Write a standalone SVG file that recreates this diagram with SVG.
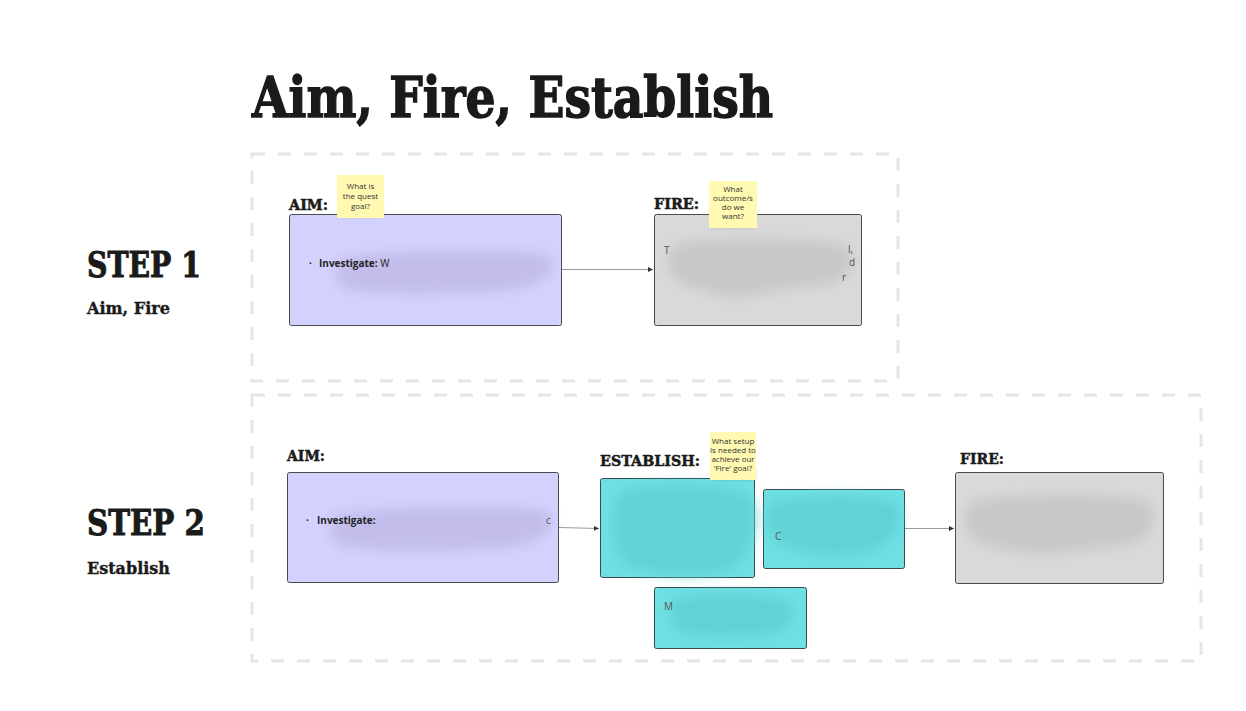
<svg xmlns="http://www.w3.org/2000/svg" width="1246" height="711" viewBox="0 0 1246 711">
<defs>
<style>
.frame{fill:none;stroke:#e6e6e6;stroke-width:3;stroke-dasharray:13 13}
.aim{fill:#d3d1fe;stroke:#4a4a4a;stroke-width:1}
.fire{fill:#d9d9d9;stroke:#4a4a4a;stroke-width:1}
.est{fill:#6ee0e3;stroke:#3a4a4a;stroke-width:1}
.sticky{fill:#fff9b1}
.stxt{font-family:"Open Sans","Liberation Sans",sans-serif;font-size:8px;fill:#333;text-anchor:middle}
.head{font-family:"DejaVu Serif","Liberation Serif",serif;font-weight:bold;fill:#1a1a1a;stroke:#1a1a1a}
.body{font-family:"Open Sans","Liberation Sans",sans-serif;font-size:10px;font-weight:bold;fill:#222}
.frag{font-family:"Open Sans","Liberation Sans",sans-serif;font-size:10px;fill:#555}
.conn{fill:none;stroke:#9a9a9a;stroke-width:1}
</style>
<marker id="arr" markerWidth="6" markerHeight="6" refX="5" refY="3" orient="auto" markerUnits="userSpaceOnUse">
<path d="M0,0.5 L5,3 L0,5.5 z" fill="#333"/>
</marker>
<filter id="blur" x="-20%" y="-50%" width="140%" height="200%"><feGaussianBlur stdDeviation="6"/></filter>
<filter id="sh" x="-30%" y="-30%" width="160%" height="160%"><feGaussianBlur stdDeviation="2"/></filter>
</defs>
<rect width="1246" height="711" fill="#ffffff"/>

<g id="title">
<text class="head" x="252" y="117" font-size="56" stroke-width="1.5" textLength="521" lengthAdjust="spacingAndGlyphs">Aim, Fire, Establish</text>
</g>

<g id="frames">
<rect class="frame" x="252" y="154" width="646" height="227"/>
<rect class="frame" x="252" y="395" width="949" height="266"/>
</g>

<g id="step1-label">
<text class="head" x="87" y="277" font-size="36" stroke-width="1" textLength="114" lengthAdjust="spacingAndGlyphs">STEP 1</text>
<text class="head" x="87" y="314" font-size="17" stroke-width="0.4" textLength="83" lengthAdjust="spacingAndGlyphs">Aim, Fire</text>
</g>
<g id="step2-label">
<text class="head" x="87" y="535" font-size="36" stroke-width="1" textLength="118" lengthAdjust="spacingAndGlyphs">STEP 2</text>
<text class="head" x="87" y="574" font-size="17" stroke-width="0.4" textLength="83" lengthAdjust="spacingAndGlyphs">Establish</text>
</g>

<g id="connectors">
<line class="conn" x1="562" y1="269.5" x2="653" y2="269.5" marker-end="url(#arr)"/>
<line class="conn" x1="559" y1="527.5" x2="599" y2="528.5" marker-end="url(#arr)"/>
<line class="conn" x1="905" y1="528.5" x2="954" y2="528.5" marker-end="url(#arr)"/>
</g>

<g id="s1-aim">
<text class="head" x="289" y="210" font-size="15" stroke-width="0.5" textLength="39" lengthAdjust="spacingAndGlyphs">AIM:</text>
<rect class="aim" x="289.5" y="214.5" width="272" height="111" rx="2"/>
<path d="M345,258 C380,250 520,248 550,256 C560,268 545,287 500,291 C430,295 350,295 340,285 C332,274 335,263 345,258 z" fill="#c2bdea" filter="url(#blur)"/>
<text class="body" x="309" y="267">·</text>
<text class="body" x="319" y="267">Investigate: <tspan font-weight="normal">W</tspan></text>
</g>

<g id="s1-fire">
<text class="head" x="654" y="209" font-size="15" stroke-width="0.5" textLength="45" lengthAdjust="spacingAndGlyphs">FIRE:</text>
<rect class="fire" x="654.5" y="214.5" width="207" height="111" rx="2"/>
<path d="M675,244 C720,236 820,238 848,246 C860,262 850,282 820,285 C790,287 760,294 740,297 C720,299 700,288 680,284 C665,272 665,252 675,244 z" fill="#c8c8c8" filter="url(#blur)"/>
<text class="frag" x="664" y="254">T</text>
<text class="frag" x="848" y="253">l,</text>
<text class="frag" x="849" y="266">d</text>
<text class="frag" x="842" y="281">r</text>
</g>

<g id="sticky1">
<rect x="340" y="206" width="42" height="10" fill="#000" opacity="0.25" filter="url(#sh)"/>
<rect class="sticky" x="337" y="175" width="47" height="43"/>
<text class="stxt" x="360.5" y="189">What is</text>
<text class="stxt" x="360.5" y="199">the quest</text>
<text class="stxt" x="360.5" y="209">goal?</text>
</g>

<g id="sticky2">
<rect x="712" y="217" width="42" height="10" fill="#000" opacity="0.25" filter="url(#sh)"/>
<rect class="sticky" x="709" y="181" width="48" height="47"/>
<text class="stxt" x="733" y="192" font-size="7.5">What</text>
<text class="stxt" x="733" y="201" font-size="7.5">outcome/s</text>
<text class="stxt" x="733" y="210" font-size="7.5">do we</text>
<text class="stxt" x="733" y="219" font-size="7.5">want?</text>
</g>

<g id="s2-aim">
<text class="head" x="287" y="461" font-size="15" stroke-width="0.5" textLength="38" lengthAdjust="spacingAndGlyphs">AIM:</text>
<rect class="aim" x="287.5" y="472.5" width="271" height="110" rx="2"/>
<path d="M335,515 C380,506 520,504 548,512 C558,526 545,544 500,548 C430,552 345,552 335,542 C328,532 328,520 335,515 z" fill="#c2bdea" filter="url(#blur)"/>
<text class="body" x="306" y="524">·</text>
<text class="body" x="317" y="524">Investigate:</text>
<text class="frag" x="546" y="524">c</text>
</g>

<g id="s2-establish">
<text class="head" x="600" y="466" font-size="15" stroke-width="0.5" textLength="100" lengthAdjust="spacingAndGlyphs">ESTABLISH:</text>
<rect class="est" x="600.5" y="478.5" width="154" height="99" rx="2"/>
<path d="M620,493 C650,482 730,482 750,498 C760,520 752,557 730,570 C700,578 650,576 625,564 C610,545 610,510 620,493 z" fill="#62d2d6" filter="url(#blur)"/>
</g>

<g id="s2-est2">
<rect class="est" x="763.5" y="489.5" width="141" height="79" rx="2"/>
<path d="M770,503 C800,494 880,494 898,504 C905,520 895,547 860,554 C830,558 800,554 778,542 C765,530 764,512 770,503 z" fill="#62d2d6" filter="url(#blur)"/>
<text class="frag" x="775" y="540">C</text>
</g>

<g id="s2-est3">
<rect class="est" x="654.5" y="587.5" width="152" height="61" rx="2"/>
<path d="M675,598 C710,592 770,592 790,602 C796,615 790,630 770,634 C730,638 690,638 678,630 C668,620 668,604 675,598 z" fill="#62d2d6" filter="url(#blur)"/>
<text class="frag" x="664" y="610">M</text>
</g>

<g id="sticky3">
<rect x="713" y="469" width="42" height="10" fill="#000" opacity="0.25" filter="url(#sh)"/>
<rect class="sticky" x="710" y="432" width="46" height="48"/>
<text class="stxt" x="733" y="444" font-size="6.8">What setup</text>
<text class="stxt" x="733" y="453" font-size="6.8">is needed to</text>
<text class="stxt" x="733" y="462" font-size="6.8">achieve our</text>
<text class="stxt" x="733" y="471" font-size="6.8">'Fire' goal?</text>
</g>

<g id="s2-fire">
<text class="head" x="960" y="464" font-size="15" stroke-width="0.5" textLength="44" lengthAdjust="spacingAndGlyphs">FIRE:</text>
<rect class="fire" x="955.5" y="472.5" width="208" height="111" rx="2"/>
<path d="M972,502 C1010,492 1120,492 1150,502 C1160,520 1150,542 1120,546 C1090,548 1070,552 1050,554 C1020,554 990,547 975,540 C962,528 962,510 972,502 z" fill="#c8c8c8" filter="url(#blur)"/>
</g>
</svg>
